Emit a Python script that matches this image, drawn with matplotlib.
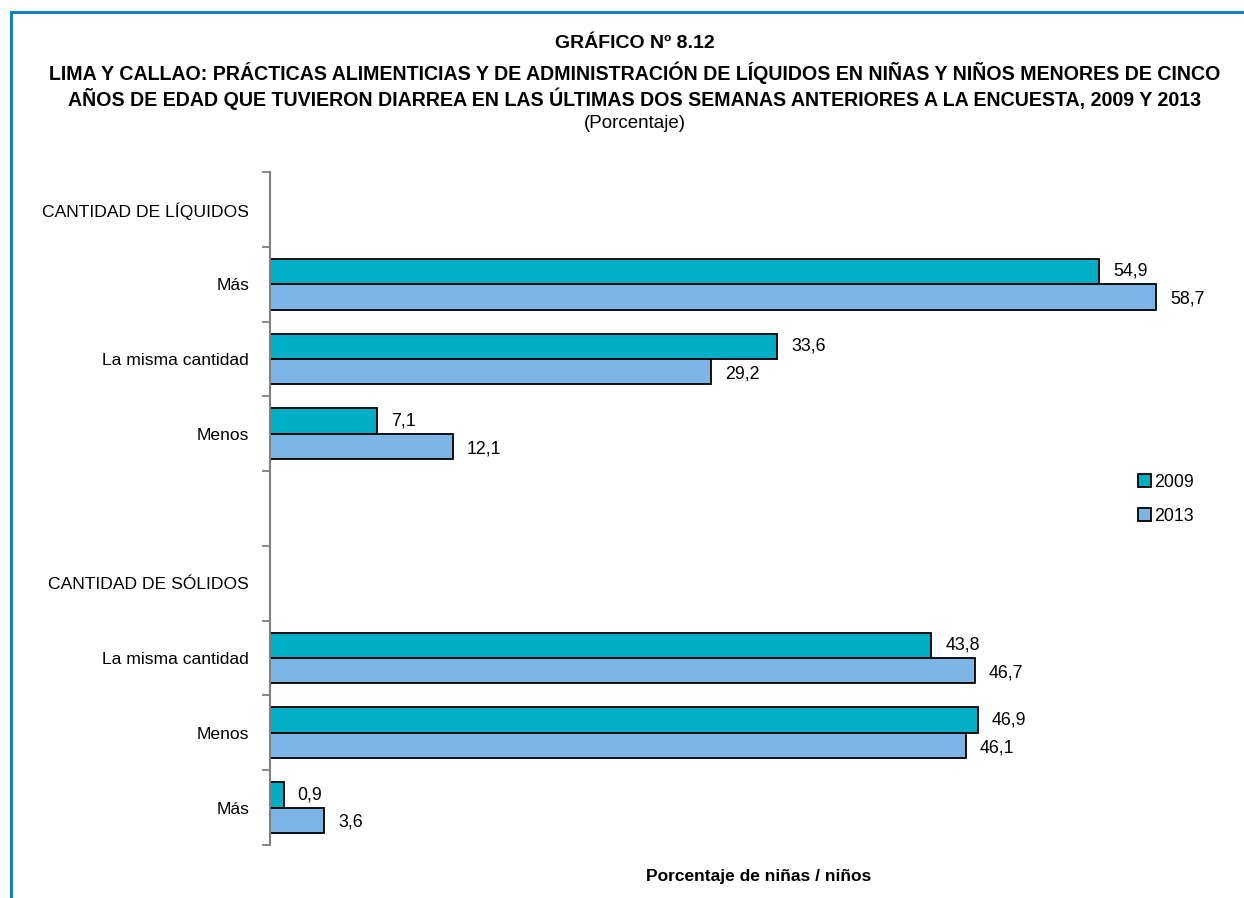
import matplotlib.pyplot as plt
from matplotlib.patches import Patch
from matplotlib.lines import Line2D

plt.rcParams['font.family'] = ['Liberation Sans', 'DejaVu Sans']

# Data
categories = ["CANTIDAD DE LÍQUIDOS", "Más", "La misma cantidad", "Menos", "",
              "CANTIDAD DE SÓLIDOS", "La misma cantidad", "Menos", "Más"]
v2009 = [None, 54.9, 33.6, 7.1, None, None, 43.8, 46.9, 0.9]
v2013 = [None, 58.7, 29.2, 12.1, None, None, 46.7, 46.1, 3.6]
years = ["2009", "2013"]

c2009 = "#00AEC6"
c2013 = "#7DB5E5"

fig = plt.figure(figsize=(12.44, 8.98), dpi=100)
ax = fig.add_axes([270 / 1244, 53 / 898, (1176 - 270) / 1244, (845 - 172) / 898])

h = 0.34
for i, (a, b) in enumerate(zip(v2009, v2013)):
    if a is not None:
        ax.barh(i - h / 2, a, height=h, color=c2009, edgecolor="black", linewidth=1.3)
        ax.annotate(f"{a:.1f}".replace(".", ","), (a, i - h / 2), xytext=(10, 0),
                    textcoords="offset points", va="center", ha="left", fontsize=12.8)
    if b is not None:
        ax.barh(i + h / 2, b, height=h, color=c2013, edgecolor="black", linewidth=1.3)
        ax.annotate(f"{b:.1f}".replace(".", ","), (b, i + h / 2), xytext=(10, -1.5),
                    textcoords="offset points", va="center", ha="left", fontsize=12.8)

ax.set_xlim(0, 60)
ax.set_ylim(len(categories) - 0.5, -0.5)
ax.set_yticks(range(len(categories)))
ax.set_yticklabels(categories, fontsize=12.6)
ax.set_yticks([i - 0.5 for i in range(len(categories) + 1)], minor=True)
ax.tick_params(axis="y", which="major", length=0, pad=15)
ax.tick_params(axis="y", which="minor", length=6, width=1.3, color="#808080")
ax.set_xticks([])
for s in ["top", "right", "bottom"]:
    ax.spines[s].set_visible(False)
ax.spines["left"].set_color("#808080")
ax.spines["left"].set_linewidth(1.5)

# Legend
handles = [Patch(facecolor=c2009, edgecolor="black", linewidth=1.3),
           Patch(facecolor=c2013, edgecolor="black", linewidth=1.3)]
fig.legend(handles, years, loc="upper left", bbox_to_anchor=(1122 / 1244, 1 - 458 / 898),
           frameon=False, fontsize=12.8, handlelength=0.75, handleheight=0.75,
           handletextpad=0.15, labelspacing=0.95)

# Titles
cx = 635 / 1244
fig.text(cx, 1 - 44 / 898, "GRÁFICO Nº 8.12", ha="center", va="center",
         fontsize=14, fontweight="bold")
fig.text(cx, 1 - 86 / 898,
         "LIMA Y CALLAO: PRÁCTICAS ALIMENTICIAS Y DE ADMINISTRACIÓN DE LÍQUIDOS EN NIÑAS Y NIÑOS MENORES DE CINCO\n"
         "AÑOS DE EDAD QUE TUVIERON DIARREA EN LAS ÚLTIMAS DOS SEMANAS ANTERIORES A LA ENCUESTA, 2009 Y 2013",
         ha="center", va="center", fontsize=14.1, fontweight="bold", linespacing=1.2)
fig.text(cx, 1 - 123 / 898, "(Porcentaje)", ha="center", va="center", fontsize=13.5)
fig.text(759 / 1244, 1 - 877 / 898, "Porcentaje de niñas / niños", ha="center", va="center",
         fontsize=12.5, fontweight="bold")

# Frame (top and left)
fig.add_artist(Line2D([11 / 1244, 1], [1 - 12 / 898, 1 - 12 / 898], color="#1A7DBF", linewidth=2.2))
fig.add_artist(Line2D([11 / 1244, 11 / 1244], [0, 1 - 12 / 898], color="#1A7DBF", linewidth=2.2))

fig.savefig("out.png", dpi=100)
